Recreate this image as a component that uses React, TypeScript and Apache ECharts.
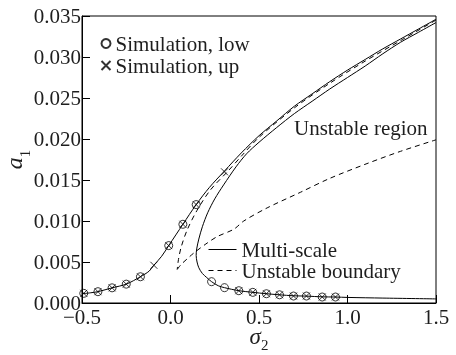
import React, { useEffect, useRef } from "react";
import * as echarts from "echarts";

// Multi-scale solution: lower-left branch continuing into the upper (outer) branch
const upperSigma = [-0.5, -0.45, -0.41, -0.33, -0.25, -0.17, -0.12, -0.094, -0.05, -0.01, 0.03, 0.07, 0.145, 0.22, 0.305, 0.4, 0.5, 0.6, 0.7, 0.8, 0.9, 1.0, 1.1, 1.2, 1.3, 1.4, 1.5];
const upperA = [0.00112, 0.00125, 0.00138, 0.00185, 0.0023, 0.0032, 0.0039, 0.0046, 0.0057, 0.0070, 0.0083, 0.0096, 0.0120, 0.0141, 0.0161, 0.0183, 0.0204, 0.0222, 0.0240, 0.0255, 0.0270, 0.0284, 0.0297, 0.0310, 0.0322, 0.0334, 0.0346];

// Multi-scale solution: middle (unstable) branch down to the turning point, then lower-right branch
const middleSigma = [1.5, 1.4, 1.3, 1.2, 1.1, 1.0, 0.9, 0.8, 0.7, 0.6, 0.5, 0.43, 0.37, 0.3, 0.25, 0.21, 0.18, 0.16, 0.148, 0.145, 0.15, 0.16, 0.18, 0.205, 0.232, 0.27, 0.305, 0.386, 0.465, 0.542, 0.616, 0.695, 0.768, 0.857, 0.932, 1.0, 1.2, 1.5];
const middleA = [0.0342, 0.0330, 0.0318, 0.0304, 0.0289, 0.0275, 0.0261, 0.0246, 0.0231, 0.0214, 0.0196, 0.0182, 0.0166, 0.0144, 0.0127, 0.0110, 0.0093, 0.0078, 0.0066, 0.0058, 0.0050, 0.0043, 0.0036, 0.0031, 0.0026, 0.0021, 0.00187, 0.0015, 0.0013, 0.00113, 0.00100, 0.00088, 0.00084, 0.00075, 0.00073, 0.00068, 0.00060, 0.00050];

// Unstable boundary (dashed): upper branch from the top down to the cusp
const boundUpSigma = [1.5, 1.3, 1.1, 0.9, 0.7, 0.5, 0.4, 0.33, 0.226, 0.15, 0.094, 0.06, 0.045, 0.038];
const boundUpA = [0.0345, 0.0320, 0.0295, 0.0268, 0.0238, 0.0202, 0.0179, 0.0162, 0.0138, 0.0113, 0.0089, 0.0068, 0.0053, 0.0041];
// Unstable boundary (dashed): lower branch from the cusp to the right edge
const boundLowSigma = [0.038, 0.06, 0.095, 0.132, 0.2, 0.264, 0.358, 0.414, 0.546, 0.734, 0.9, 1.11, 1.3, 1.5];
const boundLowA = [0.0041, 0.0047, 0.0054, 0.0061, 0.0072, 0.0081, 0.0090, 0.0100, 0.0116, 0.0135, 0.0152, 0.0170, 0.0185, 0.0199];

// Simulation, low sweep (circles)
const lowSigma = [-0.49, -0.41, -0.33, -0.25, -0.17, -0.01, 0.07, 0.145, 0.232, 0.305, 0.386, 0.465, 0.542, 0.616, 0.695, 0.768, 0.857, 0.932];
const lowA = [0.00118, 0.00138, 0.00185, 0.0023, 0.0032, 0.0070, 0.0096, 0.0120, 0.0026, 0.00187, 0.0015, 0.0013, 0.00113, 0.0010, 0.00085, 0.00085, 0.00073, 0.00073];

// Simulation, up sweep (crosses)
const upSigma = [-0.49, -0.41, -0.33, -0.25, -0.17, -0.094, -0.01, 0.07, 0.145, 0.305, 0.386, 0.465, 0.542, 0.616, 0.695, 0.768, 0.857, 0.932];
const upA = [0.00118, 0.00138, 0.00185, 0.0023, 0.0032, 0.0046, 0.0070, 0.0096, 0.0120, 0.0160, 0.0015, 0.0013, 0.00113, 0.0010, 0.00085, 0.00085, 0.00073, 0.00073];

const xTicks = { min: -0.5, max: 1.5, interval: 0.5 };
const yTicks = { min: 0, max: 0.035, interval: 0.005 };

const FONT = "Liberation Serif";
const INK = "#1e1e1e";

const zip = (xs: number[], ys: number[]) => xs.map((x, i) => [x, ys[i]]);

export default function App() {
  const ref = useRef<HTMLDivElement>(null);
  useEffect(() => {
    document.body.style.margin = "0";
    const chart = echarts.init(ref.current!, null, { renderer: "svg" });
    const line = (name: string, xs: number[], ys: number[], dashed: boolean) => ({
      name,
      type: "line",
      data: zip(xs, ys),
      showSymbol: false,
      symbol: "none",
      smooth: 0.3,
      lineStyle: { color: "#000", width: 1, type: dashed ? [5, 4] : "solid" },
      itemStyle: { color: "#000" },
      z: 2,
    });
    chart.setOption({
      animation: false,
      textStyle: { fontFamily: FONT, color: INK },
      grid: {
        left: 82, right: 20, top: 16, bottom: 52,
        containLabel: false, outerBoundsMode: "none",
        show: true, borderColor: "#000", borderWidth: 1,
      },
      xAxis: {
        type: "value",
        ...xTicks,
        axisLine: { show: true, onZero: false, lineStyle: { color: "#000", width: 1 } },
        axisTick: { show: true, inside: true, length: 8, lineStyle: { color: "#000" } },
        splitLine: { show: false },
        axisLabel: {
          margin: 5,
          fontSize: 21,
          lineHeight: 17,
          fontFamily: FONT,
          color: INK,
          formatter: (v: number) => (v < 0 ? "\u2212" : "") + Math.abs(v).toFixed(1),
        },
        name: "{i|σ}{s|2}",
        nameLocation: "middle",
        nameGap: 23,
        nameMoveOverlap: false,
        nameTextStyle: {
          rich: {
            i: { fontFamily: FONT, fontStyle: "italic", fontSize: 23, color: INK, lineHeight: 20 },
            s: { fontFamily: FONT, fontSize: 15, color: INK, verticalAlign: "bottom", lineHeight: 12, padding: [0, 0, -6, 0] },
          },
        },
      },
      yAxis: {
        type: "value",
        ...yTicks,
        axisLine: { show: true, onZero: false, lineStyle: { color: "#000", width: 1 } },
        axisTick: { show: true, inside: true, length: 8, lineStyle: { color: "#000" } },
        splitLine: { show: false },
        axisLabel: {
          margin: 1,
          fontSize: 21,
          fontFamily: FONT,
          color: INK,
          formatter: (v: number) => v.toFixed(3),
        },
        name: "{i|a}{s|1}",
        nameLocation: "middle",
        nameRotate: 90,
        nameGap: 56,
        nameMoveOverlap: false,
        nameTextStyle: {
          rich: {
            i: { fontFamily: FONT, fontStyle: "italic", fontSize: 24, color: INK, lineHeight: 24 },
            s: { fontFamily: FONT, fontSize: 15, color: INK, verticalAlign: "bottom", lineHeight: 14, padding: [0, 0, -6, 0] },
          },
        },
      },
      legend: [
        {
          data: ["Simulation, low", "Simulation, up"],
          orient: "vertical",
          left: 99,
          top: 33,
          padding: 0,
          itemGap: 1,
          itemWidth: 9,
          itemHeight: 9,
          textStyle: { fontFamily: FONT, fontSize: 21, color: INK, lineHeight: 21 },
          selectedMode: false,
        },
        {
          data: ["Multi-scale", "Unstable boundary"],
          orient: "vertical",
          left: 208,
          top: 239,
          padding: 0,
          itemGap: 0,
          itemWidth: 28,
          itemHeight: 12,
          itemStyle: { opacity: 0 },
          lineStyle: { width: 1 },
          textStyle: { fontFamily: FONT, fontSize: 21, color: INK, lineHeight: 20 },
          selectedMode: false,
        },
      ],
      graphic: [
        {
          type: "text",
          x: 294,
          y: 128,
          style: { text: "Unstable region", fontFamily: FONT, fontSize: 21, fill: INK, verticalAlign: "middle" },
        },
      ],
      series: [
        line("Multi-scale", upperSigma, upperA, false),
        line("Multi-scale", middleSigma, middleA, false),
        line("Unstable boundary", boundUpSigma, boundUpA, true),
        line("Unstable boundary", boundLowSigma, boundLowA, true),
        {
          name: "Simulation, low",
          type: "scatter",
          data: zip(lowSigma, lowA),
          symbol: "circle",
          symbolSize: 8,
          itemStyle: { color: "rgba(0,0,0,0)", borderColor: "#000", borderWidth: 1 },
          z: 3,
        },
        {
          name: "Simulation, up",
          type: "scatter",
          data: zip(upSigma, upA),
          symbol: "path://M0,0L10,10M10,0L0,10",
          symbolSize: 7,
          itemStyle: { color: "none", borderColor: "#000", borderWidth: 1 },
          z: 3,
        },
      ],
    });
    return () => chart.dispose();
  }, []);
  return <div ref={ref} style={{ position: "fixed", left: 0, top: 0, width: 456, height: 355 }} />;
}
